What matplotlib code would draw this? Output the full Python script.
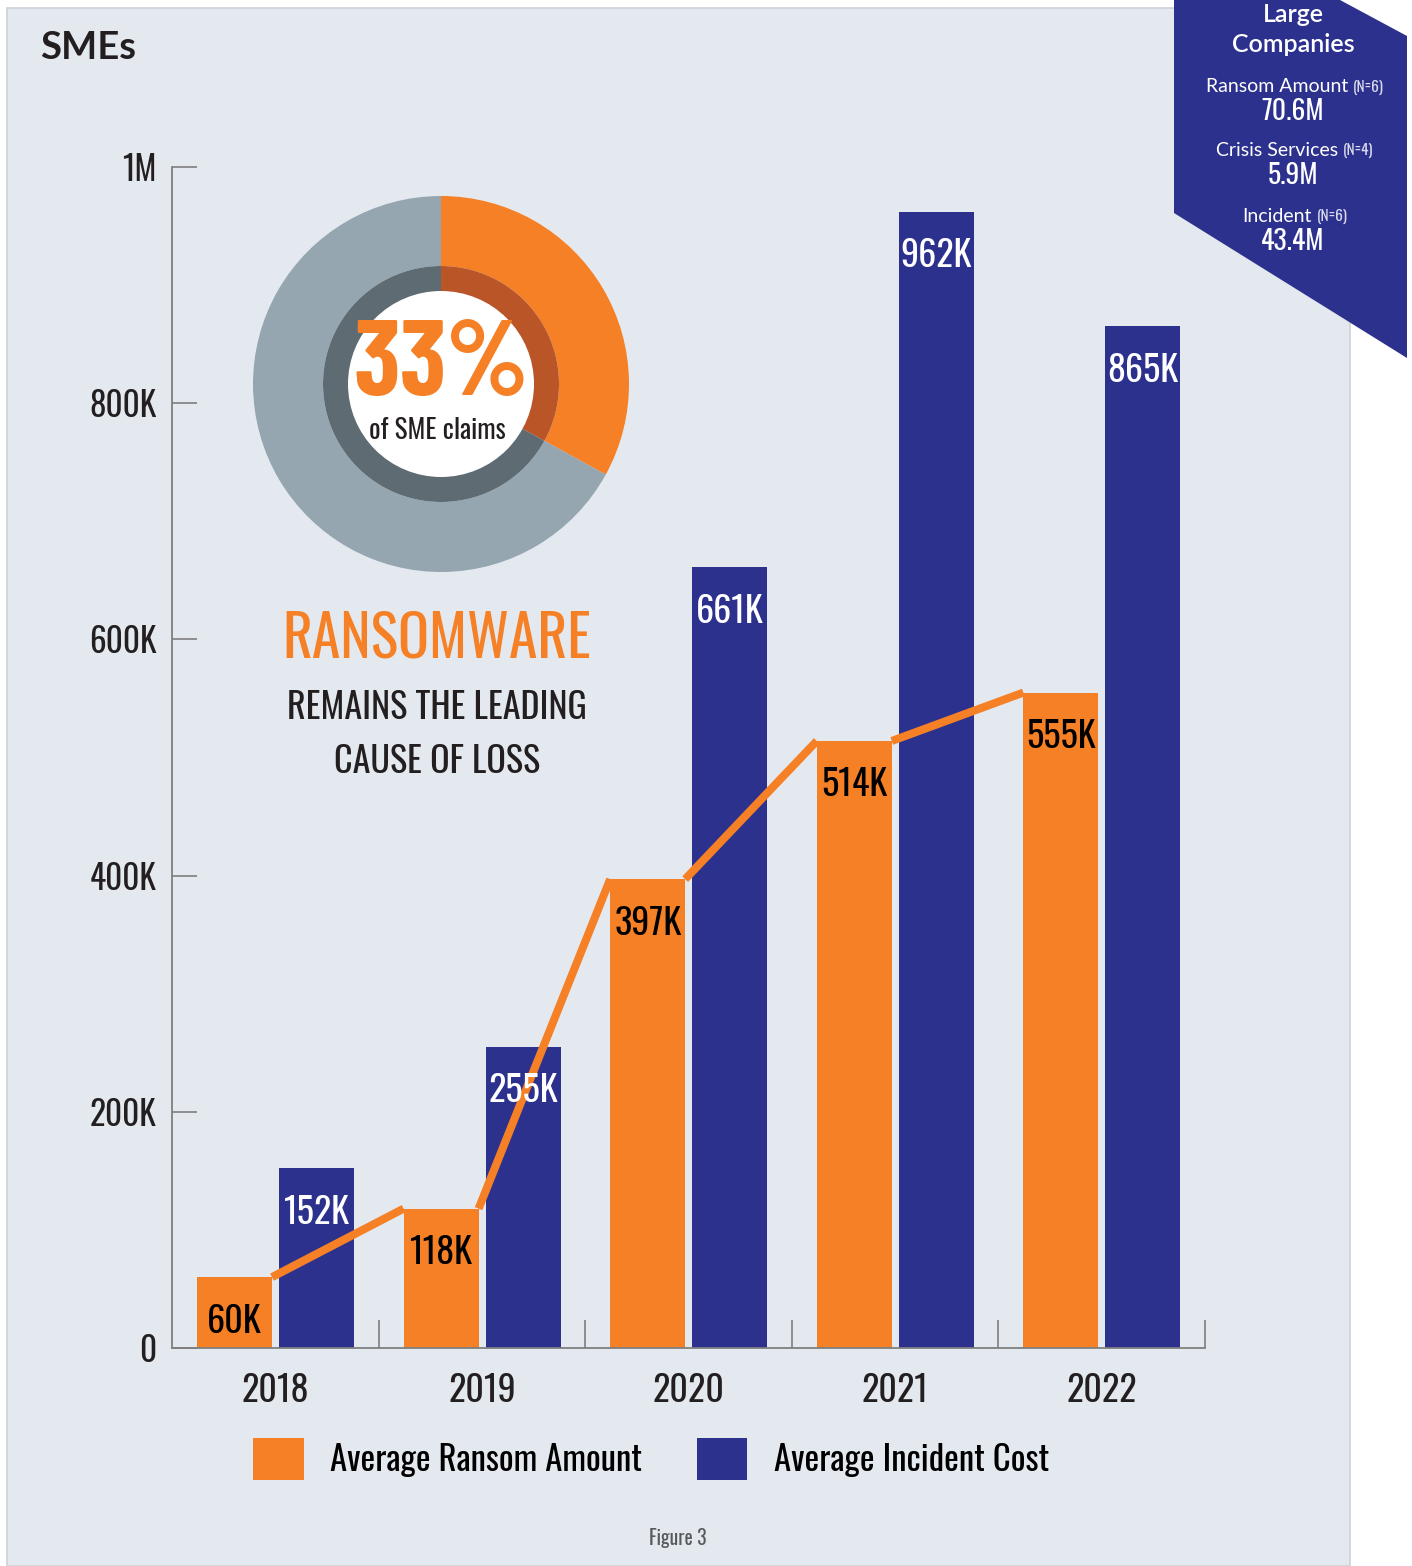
import numpy as np
import matplotlib
matplotlib.use("Agg")
import matplotlib.pyplot as plt
from matplotlib.patches import Rectangle, Polygon, Patch, Circle

# --- data --------------------------------------------------------------
years = ["2018", "2019", "2020", "2021", "2022"]
ransom_k = [60, 118, 397, 514, 555]          # average ransom amount, $K
incident_k = [152, 255, 661, 962, 865]       # average incident cost, $K
ytick_vals = [0, 200, 400, 600, 800, 1000]
ytick_labels = ["0", "200K", "400K", "600K", "800K", "1M"]
sme_share = [33, 67]                         # % of SME claims that are ransomware
large_labels = ["Ransom Amount", "Crisis Services", "Incident"]
large_counts = ["(N=6)", "(N=4)", "(N=6)"]
large_values = ["70.6M", "5.9M", "43.4M"]

ORANGE = "#F58025"
NAVY = "#2C318E"
PANEL = "#E4E9F0"
INK = "#231F20"
COND = ["Oswald", "Barlow Condensed", "Liberation Sans Narrow", "DejaVu Sans"]
COND_BOLD = ["Barlow Condensed", "Oswald", "DejaVu Sans"]
SANS = ["Lato", "Open Sans", "DejaVu Sans"]

W, H = 1412, 1566
fig = plt.figure(figsize=(W / 100, H / 100), dpi=100, facecolor="white")


def fy(y):
    return H - y


# background layer in pixel units
dec = fig.add_axes([0, 0, 1, 1], zorder=0)
dec.set_xlim(0, W)
dec.set_ylim(0, H)
dec.axis("off")
dec.add_patch(Rectangle((7, 0), 1343, H - 8, facecolor=PANEL,
                        edgecolor="#CDD2D9", lw=1.2))
dec.text(40, fy(48), "SMEs", family=SANS, weight="bold", fontsize=27.5,
         color=INK, ha="left", va="center")

# large-companies banner
dec.add_patch(Polygon([(1174, fy(0)), (1340, fy(0)), (1407, fy(36)),
                       (1407, fy(358)), (1174, fy(213))],
                      closed=True, facecolor=NAVY, edgecolor="none"))
dec.text(1293, fy(15), "Large", family=SANS, weight="semibold",
         fontsize=18, color="white", ha="center", va="center")
dec.text(1293, fy(44), "Companies", family=SANS, weight="semibold",
         fontsize=18, color="white", ha="center", va="center")

renderer = fig.canvas.get_renderer()
for lab, cnt, val, ly, vy in zip(large_labels, large_counts, large_values,
                                 [87, 150, 216], [112, 176, 242]):
    t1 = dec.text(0, fy(ly), lab, family=SANS, fontsize=14,
                  color="white", ha="left", va="center")
    t2 = dec.text(0, fy(ly), cnt, family=COND, fontsize=11,
                  color="#D8DAEC", ha="left", va="center")
    w1 = t1.get_window_extent(renderer).width
    w2 = t2.get_window_extent(renderer).width
    x0 = 1295 - (w1 + 5 + w2) / 2
    t1.set_x(x0)
    t2.set_x(x0 + w1 + 5)
    dec.text(1293, fy(vy), val, family=COND, fontsize=20, color="white",
             ha="center", va="center")

# headline text
dec.text(437, fy(640), "RANSOMWARE", family=COND, fontsize=41.5,
         color=ORANGE, ha="center", va="center")
dec.text(437, fy(708), "REMAINS THE LEADING", family=COND, weight="light",
         fontsize=26, color=INK, ha="center", va="center")
dec.text(437, fy(762), "CAUSE OF LOSS", family=COND, weight="light",
         fontsize=26, color=INK, ha="center", va="center")
dec.text(678, fy(1538), "Figure 3", family=COND, weight="light",
         fontsize=14, color="#58595B", ha="center", va="center")

# --- main bar chart ----------------------------------------------------
ax = fig.add_axes([172 / W, (H - 1348) / H, (1205 - 172) / W,
                   (1348 - 167) / H], zorder=1)
ax.patch.set_alpha(0)
x = np.arange(len(years))
bw = 0.363
o_left = x + 0.121
b_left = x + 0.518
ax.bar(b_left, incident_k, width=bw, align="edge", color=NAVY, zorder=2)
ax.bar(o_left, ransom_k, width=bw, align="edge", color=ORANGE, zorder=4)

# trend line joining the tops of the orange bars
lx, ly = [], []
for i in range(len(years) - 1):
    lx += [o_left[i] + bw, o_left[i + 1], np.nan]
    ly += [ransom_k[i], ransom_k[i + 1], np.nan]
ax.plot(lx, ly, color=ORANGE, lw=5.8, solid_capstyle="butt", zorder=3)

for i in range(len(years)):
    ax.annotate(f"{ransom_k[i]}K", (o_left[i] + bw / 2, ransom_k[i]),
                xytext=(0, -19), textcoords="offset points", ha="center",
                va="top", family=COND, fontsize=26, color="black",
                zorder=5)
    ax.annotate(f"{incident_k[i]}K", (b_left[i] + bw / 2, incident_k[i]),
                xytext=(0, -19), textcoords="offset points", ha="center",
                va="top", family=COND, fontsize=26, color="white",
                zorder=5)

ax.set_xlim(0, len(years))
ax.set_ylim(0, 1000)
for s in ["top", "right"]:
    ax.spines[s].set_visible(False)
for s in ["left", "bottom"]:
    ax.spines[s].set_color("#7F7F7F")
    ax.spines[s].set_linewidth(1.3)
    ax.spines[s].set_zorder(6)

ax.set_yticks(ytick_vals)
ax.set_yticklabels(ytick_labels, family=COND, weight="light", fontsize=24,
                   color=INK)
ax.tick_params(axis="y", direction="in", length=18, width=1.2,
               color="#7F7F7F", pad=11)

ax.set_xticks(x + 0.5)
ax.set_xticklabels(years, family=COND, weight="light", fontsize=26,
                   color=INK)
ax.set_xticks(x + 1, minor=True)
ax.tick_params(axis="x", which="major", length=0, pad=18)
ax.tick_params(axis="x", which="minor", direction="in", length=20,
               width=1.2, color="#7F7F7F")

handles = [Patch(facecolor=ORANGE, label="Average Ransom Amount"),
           Patch(facecolor=NAVY, label="Average Incident Cost")]
fig.legend(handles=handles, loc="center", ncol=2, frameon=False,
           bbox_to_anchor=(651 / W, 1 - 1459 / H),
           bbox_transform=fig.transFigure,
           prop={"family": COND, "weight": "light", "size": 25},
           handlelength=1.45, handleheight=1.45, handletextpad=0.75,
           columnspacing=1.6)

# --- donut -------------------------------------------------------------
R = 190
pax = fig.add_axes([(441 - R) / W, (H - 384 - R) / H, 2 * R / W, 2 * R / H],
                   zorder=2)
pax.pie(sme_share, colors=[ORANGE, "#95A6B1"], startangle=90,
        counterclock=False, radius=1.0,
        wedgeprops=dict(width=(188 - 118) / 188, edgecolor="none"))
pax.pie(sme_share, colors=["#BA5528", "#5F6B72"], startangle=90,
        counterclock=False, radius=118 / 188,
        wedgeprops=dict(width=26 / 188, edgecolor="none"))
pax.add_patch(Circle((0, 0), 93 / 188, facecolor="white",
                     edgecolor="none", zorder=3))
lim = R / 188
pax.set_xlim(-lim, lim)
pax.set_ylim(-lim, lim)
pax.set_aspect("equal")
pax.axis("off")
pax.text(0, 0.09, f"{sme_share[0]}%", family=COND_BOLD, weight="bold",
         fontsize=77, color=ORANGE, ha="center", va="center", zorder=4)
pax.text(-0.02, -0.245, "of SME claims", family=COND, weight="light",
         fontsize=19.5, color=INK, ha="center", va="center", zorder=4)

fig.savefig("out.png", dpi=100, facecolor="white")
